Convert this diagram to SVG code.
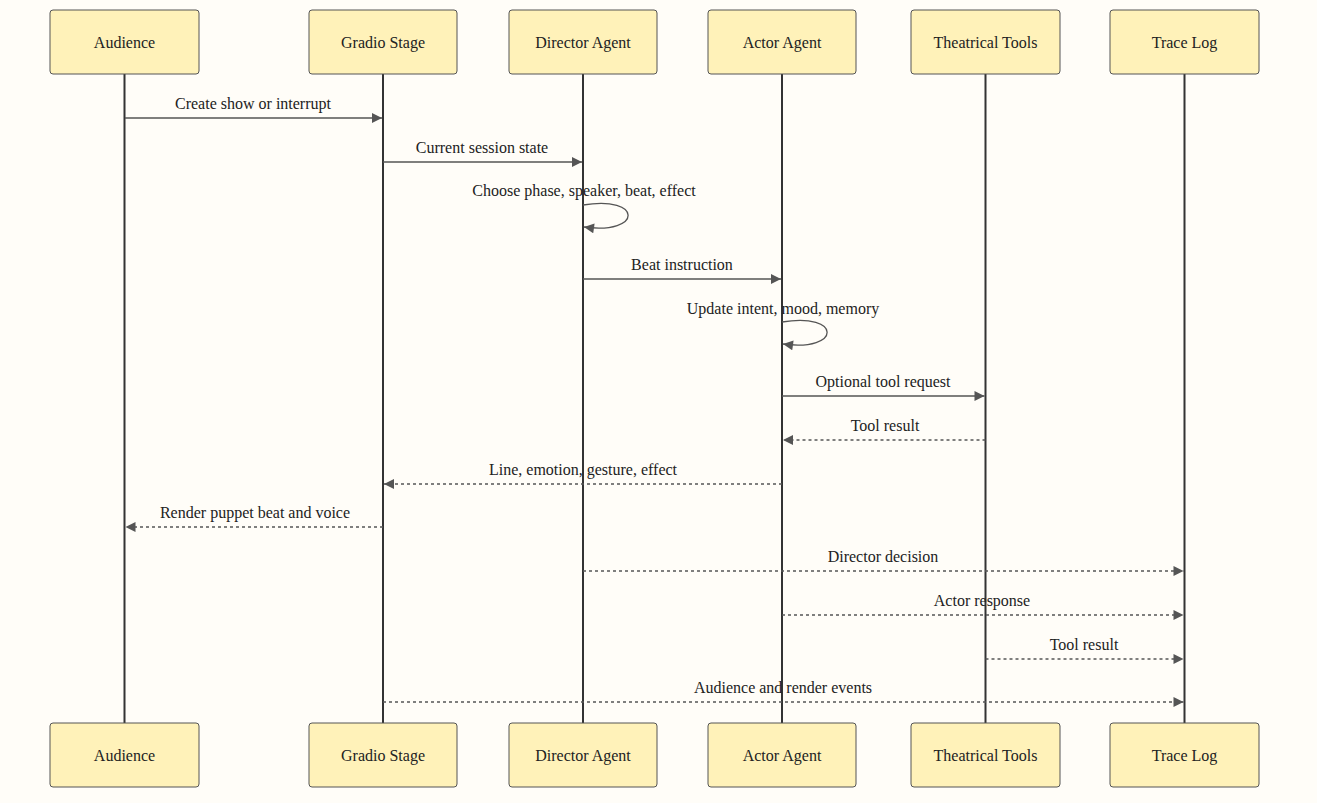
<svg xmlns="http://www.w3.org/2000/svg" width="1317" height="803" viewBox="0 0 1317 803">
<style>
.bg{fill:#fffdf8}
.actor rect{fill:#fff2b9;stroke:#555;stroke-width:1}
.actor text{font-family:"Liberation Serif",serif;font-size:16px;fill:#222;text-anchor:middle;dominant-baseline:central}
.life{stroke:#333;stroke-width:2}
.msg{stroke:#555;stroke-width:1.3;fill:none}
.dash{stroke-dasharray:3,3}
.lbl{font-family:"Liberation Serif",serif;font-size:16px;fill:#222;text-anchor:middle}
</style>
<defs>
<marker id="ah" viewBox="0 0 10 10" refX="10" refY="5" markerUnits="userSpaceOnUse" markerWidth="11" markerHeight="10" orient="auto">
<path d="M0,0 L10,5 L0,10 z" fill="#555"/>
</marker>
</defs>
<rect class="bg" x="0" y="0" width="1317" height="803"/>
<g id="lifelines">
<line class="life" x1="124.5" y1="74" x2="124.5" y2="723"/>
<line class="life" x1="383" y1="74" x2="383" y2="723"/>
<line class="life" x1="583" y1="74" x2="583" y2="723"/>
<line class="life" x1="782" y1="74" x2="782" y2="723"/>
<line class="life" x1="985.5" y1="74" x2="985.5" y2="723"/>
<line class="life" x1="1184.5" y1="74" x2="1184.5" y2="723"/>
</g>
<g id="audience" class="actor"><rect x="50" y="10" width="149" height="64" rx="3"/><text x="124.5" y="42">Audience</text></g>
<g id="gradio" class="actor"><rect x="309" y="10" width="148" height="64" rx="3"/><text x="383" y="42">Gradio Stage</text></g>
<g id="director" class="actor"><rect x="509" y="10" width="148" height="64" rx="3"/><text x="583" y="42">Director Agent</text></g>
<g id="actor" class="actor"><rect x="708" y="10" width="148" height="64" rx="3"/><text x="782" y="42">Actor Agent</text></g>
<g id="tools" class="actor"><rect x="911" y="10" width="149" height="64" rx="3"/><text x="985.5" y="42">Theatrical Tools</text></g>
<g id="trace" class="actor"><rect x="1110" y="10" width="149" height="64" rx="3"/><text x="1184.5" y="42">Trace Log</text></g>
<g id="audience-bottom" class="actor"><rect x="50" y="723" width="149" height="64" rx="3"/><text x="124.5" y="755">Audience</text></g>
<g id="gradio-bottom" class="actor"><rect x="309" y="723" width="148" height="64" rx="3"/><text x="383" y="755">Gradio Stage</text></g>
<g id="director-bottom" class="actor"><rect x="509" y="723" width="148" height="64" rx="3"/><text x="583" y="755">Director Agent</text></g>
<g id="actor-bottom" class="actor"><rect x="708" y="723" width="148" height="64" rx="3"/><text x="782" y="755">Actor Agent</text></g>
<g id="tools-bottom" class="actor"><rect x="911" y="723" width="149" height="64" rx="3"/><text x="985.5" y="755">Theatrical Tools</text></g>
<g id="trace-bottom" class="actor"><rect x="1110" y="723" width="149" height="64" rx="3"/><text x="1184.5" y="755">Trace Log</text></g>
<g id="connectors">
<line class="msg" x1="125" y1="118" x2="382" y2="118" marker-end="url(#ah)"/>
<text class="lbl" x="253" y="109">Create show or interrupt</text>
<line class="msg" x1="383" y1="162" x2="582" y2="162" marker-end="url(#ah)"/>
<text class="lbl" x="482" y="153">Current session state</text>
<path class="msg" d="M583,205 C643,195 643,235 584,227" marker-end="url(#ah)"/>
<text class="lbl" x="584" y="196">Choose phase, speaker, beat, effect</text>
<line class="msg" x1="583" y1="279" x2="781" y2="279" marker-end="url(#ah)"/>
<text class="lbl" x="682" y="270">Beat instruction</text>
<path class="msg" d="M782,322 C842,312 842,352 783,344" marker-end="url(#ah)"/>
<text class="lbl" x="783" y="314">Update intent, mood, memory</text>
<line class="msg" x1="782" y1="396" x2="984.5" y2="396" marker-end="url(#ah)"/>
<text class="lbl" x="883" y="387">Optional tool request</text>
<line class="msg dash" x1="985.5" y1="440" x2="783" y2="440" marker-end="url(#ah)"/>
<text class="lbl" x="885" y="431">Tool result</text>
<line class="msg dash" x1="782" y1="484" x2="384" y2="484" marker-end="url(#ah)"/>
<text class="lbl" x="583" y="475">Line, emotion, gesture, effect</text>
<line class="msg dash" x1="383" y1="527" x2="125.5" y2="527" marker-end="url(#ah)"/>
<text class="lbl" x="255" y="518">Render puppet beat and voice</text>
<line class="msg dash" x1="583" y1="571" x2="1183.5" y2="571" marker-end="url(#ah)"/>
<text class="lbl" x="883" y="562">Director decision</text>
<line class="msg dash" x1="782" y1="615" x2="1183.5" y2="615" marker-end="url(#ah)"/>
<text class="lbl" x="982" y="606">Actor response</text>
<line class="msg dash" x1="985.5" y1="659" x2="1183.5" y2="659" marker-end="url(#ah)"/>
<text class="lbl" x="1084" y="650">Tool result</text>
<line class="msg dash" x1="383" y1="702" x2="1183.5" y2="702" marker-end="url(#ah)"/>
<text class="lbl" x="783" y="693">Audience and render events</text>
</g>
</svg>
